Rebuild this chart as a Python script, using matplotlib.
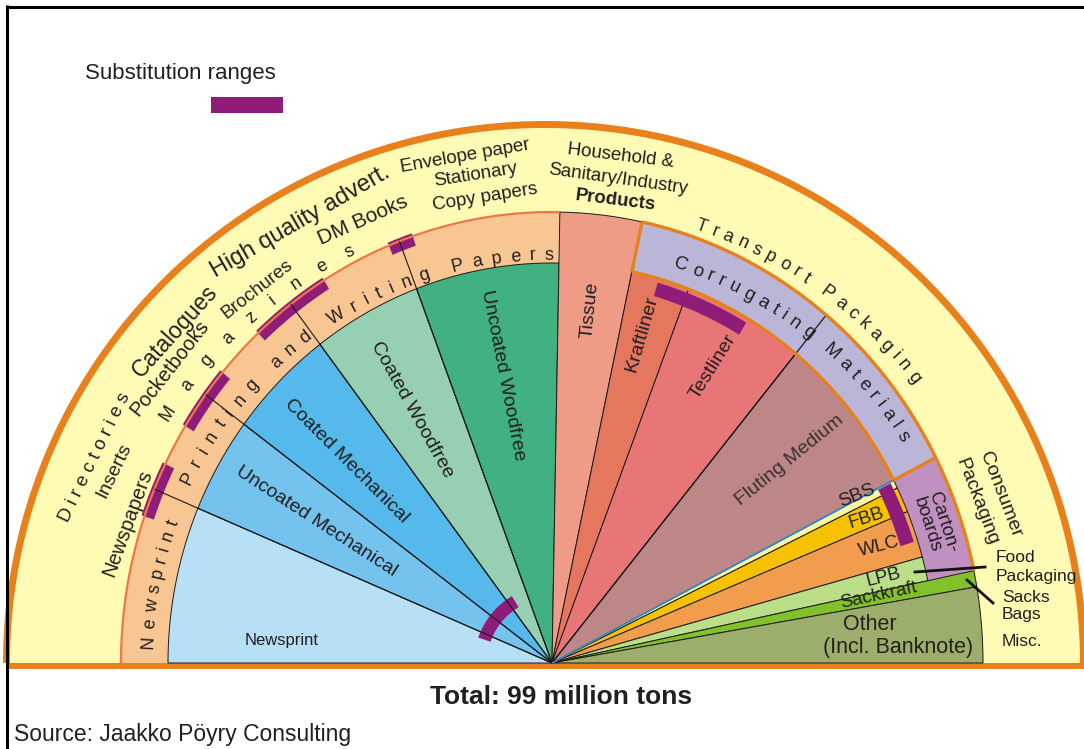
import numpy as np
import matplotlib.pyplot as plt
from matplotlib.patches import Polygon, Rectangle
from matplotlib.textpath import TextToPath
from matplotlib.font_manager import FontProperties, fontManager

# ===== Data (million tons) =====
grades = ['Newsprint', 'Uncoated Mechanical', 'Coated Mechanical', 'Coated Woodfree',
          'Uncoated Woodfree', 'Tissue', 'Kraftliner', 'Testliner', 'Fluting Medium',
          'SBS', 'FBB', 'WLC', 'LPB', 'Sackkraft', 'Other']
volumes = [13.0, 7.8, 8.9, 8.9, 11.5, 5.8, 4.7, 10.0, 13.0, 0.7, 2.1, 3.9, 2.0, 1.2, 5.6]
grade_colors = ['#b7dff6', '#74c3ee', '#55b9eb', '#97cfb3', '#41b182', '#ee9c86',
                '#e6775f', '#e87677', '#bd8787', '#fcf7a2', '#f6c200', '#f29c4d',
                '#badf88', '#83c12b', '#9cae6c']
# grades that reach out to the ring radius
tall = ['Tissue', 'Sackkraft', 'Other']

# substitution ranges, cumulative million tons from the left end
subst_outer = [(10.9, 15.0), (18.1, 22.8), (26.6, 32.6), (37.8, 39.6)]
subst_inner = [(58.1, 65.9), (83.7, 88.9)]
subst_core = [(10.5, 32.5)]

# ===== Geometry / style =====
CX, CY = 552, 663
R_IN = (384, 400)
R_RING = (431, 451)
OUT_C = (545, 663)
OUT_R = 535
ORANGE = '#e8801c'
YELLOW = '#fffab4'
PEACH = '#f7c693'
LAVENDER = '#bbb5d8'
CARTON = '#c090c1'
PURPLE = '#8f1c79'
INK = '#231f20'

names = {f.name for f in fontManager.ttflist}
FONT = 'Liberation Sans' if 'Liberation Sans' in names else 'DejaVu Sans'

total = sum(volumes)
cum = np.concatenate([[0], np.cumsum(volumes)])


def ang(m):
    return 180 - m / total * 180


edges = ang(cum)


def er(t, ab):
    a, b = ab
    t = np.radians(t)
    return 1 / np.sqrt((np.cos(t) / a) ** 2 + (np.sin(t) / b) ** 2)


def xy(t, r, c=(CX, CY)):
    t = np.radians(t)
    return c[0] + r * np.cos(t), c[1] - r * np.sin(t)


def sector(t1, t2, rout, rin=None, dout=0, din=0, n=150):
    ts = np.linspace(t1, t2, n)
    pts = [xy(t, er(t, rout) + dout) for t in ts]
    if rin is None:
        pts.append((CX, CY))
    else:
        pts += [xy(t, er(t, rin) + din) for t in ts[::-1]]
    return pts


def arc(t1, t2, rab, **kw):
    ts = np.linspace(t1, t2, 150)
    p = np.array([xy(t, er(t, rab)) for t in ts])
    ax.plot(p[:, 0], p[:, 1], solid_capstyle='butt', **kw)


def radial(t, r0, r1, **kw):
    p0 = xy(t, er(t, r0)) if r0 else (CX, CY)
    p1 = xy(t, er(t, r1))
    ax.plot([p0[0], p1[0]], [p0[1], p1[1]], solid_capstyle='butt', **kw)


t2p = TextToPath()


def advances(s, size):
    fp = FontProperties(family=FONT, size=size)
    base = t2p.get_text_width_height_descent('XX', fp, ismath=False)[0]
    return np.array([t2p.get_text_width_height_descent('X' + ch + 'X', fp, ismath=False)[0] - base
                     for ch in s]) * 100 / 72


def curved(s, t_start, t_end, r, size):
    w = advances(s, size)
    centers = np.cumsum(w) - w / 2
    span = np.radians(t_start - t_end) * r
    track = (span - (centers[-1] - centers[0])) / (len(s) - 1)
    pos = centers - centers[0] + track * np.arange(len(s))
    for ch, p in zip(s, pos):
        if ch == ' ':
            continue
        t = t_start - np.degrees(p / r)
        x, y = xy(t, r)
        ax.text(x, y, ch, rotation=t - 90, rotation_mode='anchor', ha='center', va='center',
                fontsize=size, family=FONT, color=INK)


def lab(x, y, s, rot=0, size=13.5, **kw):
    kw.setdefault('family', FONT)
    kw.setdefault('color', INK)
    ax.text(x, y, s, rotation=rot, rotation_mode='anchor', ha='center', va='center',
            fontsize=size, **kw)


# ===== Figure =====
fig = plt.figure(figsize=(10.84, 7.49), dpi=100)
ax = fig.add_axes([0, 0, 1, 1])
ax.set_xlim(0, 1084)
ax.set_ylim(749, 0)
ax.axis('off')

# outer yellow band with orange rim
ts = np.linspace(180, 0, 300)
rim = [xy(t, OUT_R + 7, OUT_C) for t in ts]
ax.add_patch(Polygon(rim, closed=True, fc=ORANGE, ec='none'))
ax.add_patch(Polygon([xy(t, OUT_R, OUT_C) for t in ts], closed=True, fc=YELLOW, ec='none'))
ax.add_patch(Rectangle((8, 663), 1084, 6, fc=ORANGE, ec='none'))

# group rings
i_pw = grades.index('Uncoated Woodfree') + 1
i_t = grades.index('Tissue')
i_cor = grades.index('Fluting Medium') + 1
i_cb = grades.index('LPB') + 1
ax.add_patch(Polygon(sector(180, edges[i_pw], R_RING, R_IN), fc=PEACH, ec='none'))
ax.add_patch(Polygon(sector(edges[i_t + 1], edges[i_cor], R_RING, R_IN), fc=LAVENDER, ec='none'))
ax.add_patch(Polygon(sector(edges[i_cor], edges[i_cb], R_RING, R_IN), fc=CARTON, ec='none'))
arc(180, edges[i_pw], R_RING, color='#ec7848', lw=1.6)

# grade wedges
for k, g in enumerate(grades):
    rout = R_RING if g in tall else R_IN
    ax.add_patch(Polygon(sector(edges[k], edges[k + 1], rout), fc=grade_colors[k],
                         ec='#1a1a1a', lw=0.7, joinstyle='miter'))

# boundary lines through the printing & writing ring
for k in range(1, i_pw):
    radial(edges[k], None, R_RING, color='#1a1a1a', lw=0.8)
radial(edges[i_cor - 1], None, R_RING, color='#1a1a1a', lw=0.9)
radial(edges[grades.index('SBS')], None, R_IN, color='#2f8fd6', lw=1.2)

# orange borders of the packaging rings
arc(edges[i_t + 1], edges[i_cb], R_RING, color=ORANGE, lw=2.4)
arc(edges[i_t + 1], edges[i_cor], R_IN, color=ORANGE, lw=2.4)
radial(edges[i_t + 1], R_IN, R_RING, color=ORANGE, lw=2.4)
radial(edges[i_cor], R_IN, R_RING, color=ORANGE, lw=2.4)

# substitution ranges
for a0, a1 in subst_outer:
    ax.add_patch(Polygon(sector(ang(a0), ang(a1), R_RING, R_RING, dout=3, din=-10), fc=PURPLE, ec='none'))
for a0, a1 in subst_inner:
    ax.add_patch(Polygon(sector(ang(a0), ang(a1), R_IN, R_IN, dout=-4, din=-18), fc=PURPLE, ec='none'))
for a0, a1 in subst_core:
    ax.add_patch(Polygon(sector(ang(a0), ang(a1), (78, 78), (65, 65)), fc=PURPLE, ec='none'))

# ===== Curved ring titles =====
curved('Printing and Writing Papers', 153.2, 90.4, 408, 13)
curved('Newsprint', 177.0, 159.7, 404, 13)
curved('Magazines', 146.9, 116.2, 458, 13)
curved('Transport Packaging', 71.1, 38.3, 461, 13)
curved('Corrugating Materials', 72.1, 32.9, 418, 13.5)

# ===== End-use labels in the outer band =====
lab(95, 457, 'D i r e c t o r i e s', 64, 13.5)
lab(114, 471, 'Inserts', 64, 14)
lab(128, 523, 'Newspapers', 70, 14.5)
lab(170, 368, 'Pocketbooks', 52, 14.5)
lab(175, 331, 'Catalogues', 48, 16.5)
lab(257, 289, 'Brochures', 38, 13.5)
lab(300, 222, 'High quality advert.', 30, 17)
lab(363, 220, 'DM Books', 24, 15)
lab(465, 156, 'Envelope paper', 10, 13.5)
lab(476, 175, 'Stationary', 9, 13.5)
lab(485, 197, 'Copy papers', 9, 13.5)
lab(621, 156, 'Household &', -7, 13.5)
lab(618, 179, 'Sanitary/Industry', -8, 13.5)
lab(615, 200, 'Products', -7, 13.5, fontweight='bold')
lab(1000, 495, 'Consumer', -69, 14)
lab(977, 502, 'Packaging', -69, 14)
lab(943, 522, 'Carton-', -72, 13.5)
lab(927, 525, 'boards', -72, 13.5)
for s, y in zip(['Food', 'Packaging', 'Sacks', 'Bags', 'Misc.'], [558, 577, 597, 614, 641]):
    ax.text(996 if s in ('Food', 'Packaging') else 1002, y, s, ha='left', va='center',
            fontsize=12.5, family=FONT, color=INK)
ax.plot([915, 985], [572, 567], color='#111111', lw=2)
ax.plot([967, 993], [580, 603], color='#111111', lw=2)

# ===== Grade labels =====
lab(282, 640, 'Newsprint', 0, 12)
lab(316, 521, 'Uncoated Mechanical', -33, 14)
lab(346, 461, 'Coated Mechanical', -45, 14)
lab(412, 410, 'Coated Woodfree', -61, 14)
lab(503, 375, 'Uncoated Woodfree', -79, 14)
lab(590, 310, 'Tissue', 84, 14)
lab(642, 334, 'Kraftliner', 74, 14)
lab(713, 367, 'Testliner', 58, 14)
lab(790, 460, 'Fluting Medium', 39, 14, color='#3a3030')
lab(857, 496, 'SBS', 22, 13.5)
lab(866, 518, 'FBB', 18, 13.5)
lab(879, 547, 'WLC', 14, 13.5)
lab(884, 577, 'LPB', 14, 13.5)
lab(879, 595, 'Sackkraft', 12, 13.5)
lab(870, 625, 'Other', 0, 15.5)
lab(898, 648, '(Incl. Banknote)', 0, 15.5)

# ===== Legend, totals, frame =====
ax.text(85, 73, 'Substitution ranges', ha='left', va='center', fontsize=16, family=FONT, color=INK)
ax.add_patch(Rectangle((211, 97), 72, 16, fc=PURPLE, ec='none'))
ax.text(561, 697, 'Total: 99 million tons', ha='center', va='center', fontsize=19,
        fontweight='bold', family=FONT, color=INK)
ax.text(14, 735, 'Source: Jaakko Pöyry Consulting', ha='left', va='center', fontsize=16.5,
        family=FONT, color=INK)
ax.plot([6.5, 1084], [6.5, 6.5], color='black', lw=2.2, solid_capstyle='butt')
ax.plot([6.5, 6.5], [5.4, 749], color='black', lw=2.2, solid_capstyle='butt')

fig.savefig('out.png', dpi=100)
